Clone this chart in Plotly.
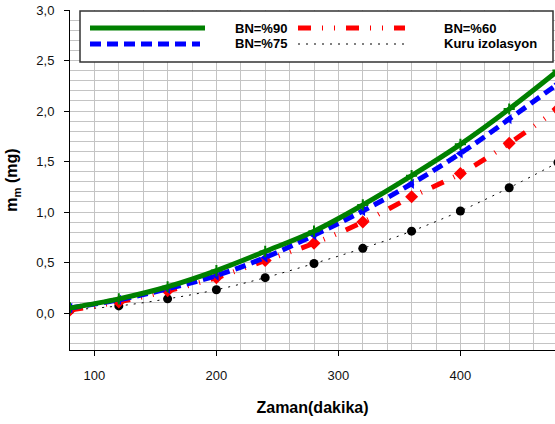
import plotly.graph_objects as go

# ---- data ----
zaman = [80, 120, 160, 200, 240, 280, 320, 360, 400, 440, 480]
bn90 = [0.05, 0.14, 0.26, 0.42, 0.61, 0.81, 1.07, 1.36, 1.67, 2.02, 2.40]
bn75 = [0.05, 0.13, 0.24, 0.37, 0.55, 0.77, 1.01, 1.28, 1.58, 1.92, 2.27]
bn60 = [0.03, 0.11, 0.22, 0.35, 0.52, 0.69, 0.90, 1.15, 1.38, 1.68, 2.02]
kuru = [0.03, 0.07, 0.14, 0.23, 0.35, 0.49, 0.64, 0.81, 1.01, 1.24, 1.49]

names = ["BN=%90", "BN=%60", "BN=%75", "Kuru izolasyon"]
colors = ["#008000", "#ff0000", "#0000ff", "#000000"]

W, H = 555, 424
L, R, T, B = 70, 0, 10, 74
PW, PH = W - L - R, H - T - B

FONT = "Liberation Sans, Arial, sans-serif"

fig = go.Figure()

# Kuru izolasyon
fig.add_trace(go.Scatter(
    x=zaman, y=kuru, mode="lines+markers", name=names[3], showlegend=False,
    line=dict(color="black", width=1, dash="2px,6px", shape="spline"),
    marker=dict(symbol="circle", size=9, color="black")))
# BN=%60
fig.add_trace(go.Scatter(
    x=zaman, y=bn60, mode="lines+markers", name=names[1], showlegend=False,
    line=dict(color="#ff0000", width=5, dash="13px,11px,1px,11px,1px,11px", shape="spline"),
    marker=dict(symbol="diamond", size=10, color="#ff0000")))
# BN=%75
fig.add_trace(go.Scatter(
    x=zaman, y=bn75, mode="lines+markers", name=names[2], showlegend=False,
    line=dict(color="#0000ff", width=5, dash="11px,6px", shape="spline"),
    marker=dict(symbol="triangle-left", size=9, color="#0000ff")))
# BN=%90
fig.add_trace(go.Scatter(
    x=zaman, y=bn90, mode="lines+markers", name=names[0], showlegend=False,
    line=dict(color="#008000", width=5, shape="spline"),
    marker=dict(symbol="cross-thin", size=8, color="#008000",
                line=dict(color="#008000", width=2))))

# ---- custom legend (layout only) ----
def px_x(p):
    return (p - L) / PW

def px_y(p):
    return (H - B - p) / PH

shapes = [dict(type="rect", xref="paper", yref="paper",
               x0=px_x(80), x1=px_x(553), y0=px_y(62), y1=px_y(11),
               line=dict(color="#333333", width=1.5), fillcolor="white", layer="above")]
annotations = []
entries = [
    (names[0], colors[0], "solid", 5, 90, 205, 28, 233),
    (names[1], colors[1], "13px,11px,1px,11px,1px,11px", 5, 298, 405, 28, 442),
    (names[2], colors[2], "11px,6px", 5, 90, 200, 44, 233),
    (names[3], colors[3], "2px,6px", 1, 298, 405, 44, 442),
]
for nm, col, dash, wd, xa, xb, yy, xt in entries:
    shapes.append(dict(type="line", xref="paper", yref="paper",
                       x0=px_x(xa), x1=px_x(xb), y0=px_y(yy), y1=px_y(yy),
                       line=dict(color=col, width=wd, dash=dash), layer="above"))
    annotations.append(dict(xref="paper", yref="paper", x=px_x(xt), y=px_y(yy),
                            text=f"<b>{nm}</b>", showarrow=False, xanchor="left",
                            yanchor="middle", font=dict(family=FONT, size=13, color="black")))

grid = "#c4c4c4"
fig.update_layout(
    width=W, height=H,
    margin=dict(l=L, r=R, t=T, b=B, pad=0, autoexpand=False),
    paper_bgcolor="white", plot_bgcolor="white",
    separators=",.",
    font=dict(family=FONT, color="#111111", size=13),
    shapes=shapes, annotations=annotations,
    showlegend=False,
    xaxis=dict(
        range=[80, 80 + PW / 1.22], tick0=100, dtick=100, automargin=False,
        showgrid=True, gridcolor=grid, gridwidth=1,
        minor=dict(dtick=20, tick0=100, showgrid=True, gridcolor=grid, gridwidth=1),
        showline=True, linecolor="black", linewidth=1,
        ticks="outside", ticklen=5, tickcolor="black", ticklabelstandoff=8,
        zeroline=False, tickfont=dict(size=13, color="#111111"),
        title=dict(text="<b>Zaman(dakika)</b>", font=dict(size=16, color="black"), standoff=20),
    ),
    yaxis=dict(
        range=[3.0 - PH / 101.0, 3.0], tick0=0, dtick=0.5, tickformat=".1f", automargin=False,
        showgrid=True, gridcolor=grid, gridwidth=1,
        minor=dict(dtick=0.1, tick0=0, showgrid=True, gridcolor=grid, gridwidth=1),
        showline=True, linecolor="black", linewidth=1,
        ticks="outside", ticklen=5, tickcolor="black", ticklabelstandoff=7,
        zeroline=False, tickfont=dict(size=13, color="#111111"),
        title=dict(text="<b>m<sub>m</sub> (mg)</b>", font=dict(size=16, color="black"), standoff=14),
    ),
)

fig.write_html(
    "out.html",
    config={"displayModeBar": False},
    post_script="document.body.style.margin='0';document.body.style.padding='0';"
                "document.body.style.overflow='hidden';",
)
